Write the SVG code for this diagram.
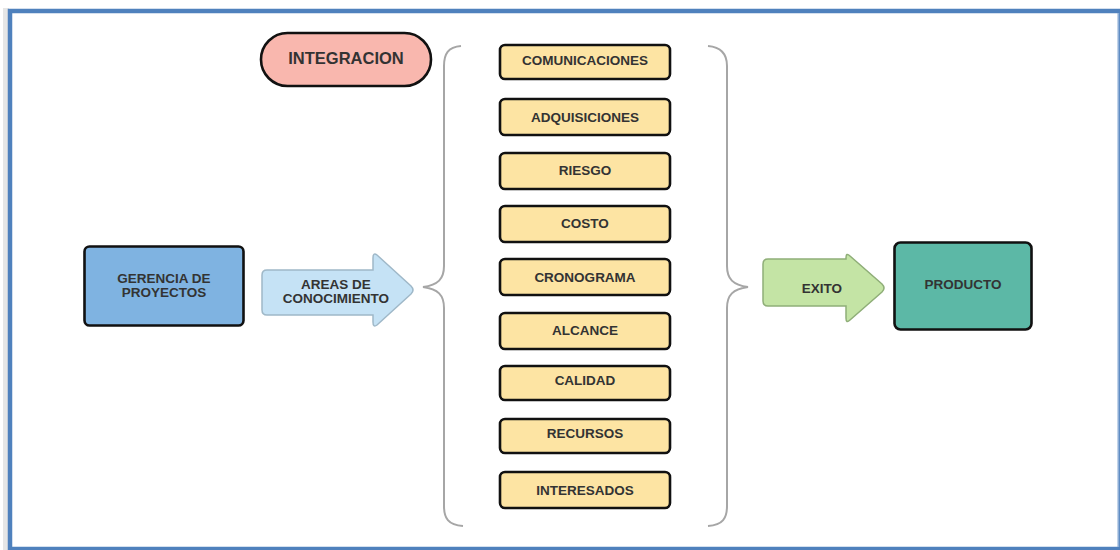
<svg xmlns="http://www.w3.org/2000/svg" width="1120" height="550" viewBox="0 0 1120 550">
  <style>
    .lbl { font-family: "Liberation Sans", Arial, sans-serif; font-weight: bold; font-size: 13.5px; fill: #333333; text-anchor: middle; }
    .area { fill: #fde4a3; stroke: #111111; stroke-width: 2.6; }
    .brace { fill: none; stroke: #a6a6a6; stroke-width: 2; }
  </style>

  <!-- page frame -->
  <rect x="0" y="0" width="1120" height="550" fill="#ffffff"/>
  <rect x="3" y="8" width="6" height="542" fill="#e6e6e6"/>
  <rect x="10" y="11" width="1110" height="538" fill="#ffffff" stroke="#4f81bd" stroke-width="4.5"/>
  <line x1="1118.5" y1="13" x2="1118.5" y2="547" stroke="#8eaed6" stroke-width="1.5"/>

  <!-- connectors: braces grouping the knowledge areas -->
  <g id="connectors">
    <path class="brace" d="M461,46 C448,47 444,54 444,66 L444,266 C444,279 438,285 423,287 C438,289 444,295 444,308 L444,506 C444,518 448,525 463,526"/>
    <path class="brace" d="M708,46 C721,47 727,54 727,66 L727,266 C727,279 733,285 748,287 C733,289 727,295 727,308 L727,506 C727,518 723,525 708,526"/>
  </g>

  <g id="integracion">
    <rect x="261" y="33" width="170" height="53" rx="26.5" fill="#f9b7ae" stroke="#111111" stroke-width="2.6"/>
    <text class="lbl" x="346" y="64" style="font-size:16.5px">INTEGRACION</text>
  </g>

  <g id="gerencia">
    <rect x="84.5" y="246.5" width="159" height="79" rx="5" fill="#7fb3e1" stroke="#111111" stroke-width="2.6"/>
    <text class="lbl" x="164" y="283">GERENCIA DE</text>
    <text class="lbl" x="164" y="297">PROYECTOS</text>
  </g>

  <g id="areas-conocimiento">
    <path d="M267,270 L373,270 L373,258 Q373,252 377,255 L411,286 Q415,290 411,294 L377,325 Q373,328 373,322 L373,315 L267,315 Q262,315 262,310 L262,275 Q262,270 267,270 Z" fill="#c5e2f5" stroke="#9fb8c8" stroke-width="1.5"/>
    <text class="lbl" x="336" y="289">AREAS DE</text>
    <text class="lbl" x="336" y="303">CONOCIMIENTO</text>
  </g>

  <g id="comunicaciones">
    <rect class="area" x="500" y="45" width="170" height="34" rx="5"/>
    <text class="lbl" x="585" y="64.5">COMUNICACIONES</text>
  </g>
  <g id="adquisiciones">
    <rect class="area" x="500" y="99" width="170" height="36" rx="5"/>
    <text class="lbl" x="585" y="122">ADQUISICIONES</text>
  </g>
  <g id="riesgo">
    <rect class="area" x="500" y="153" width="170" height="36" rx="5"/>
    <text class="lbl" x="585" y="175">RIESGO</text>
  </g>
  <g id="costo">
    <rect class="area" x="500" y="206" width="170" height="36" rx="5"/>
    <text class="lbl" x="585" y="228">COSTO</text>
  </g>
  <g id="cronograma">
    <rect class="area" x="500" y="259" width="170" height="36" rx="5"/>
    <text class="lbl" x="585" y="282">CRONOGRAMA</text>
  </g>
  <g id="alcance">
    <rect class="area" x="500" y="313" width="170" height="36" rx="5"/>
    <text class="lbl" x="585" y="335">ALCANCE</text>
  </g>
  <g id="calidad">
    <rect class="area" x="500" y="366" width="170" height="34" rx="5"/>
    <text class="lbl" x="585" y="385">CALIDAD</text>
  </g>
  <g id="recursos">
    <rect class="area" x="500" y="419" width="170" height="34" rx="5"/>
    <text class="lbl" x="585" y="438">RECURSOS</text>
  </g>
  <g id="interesados">
    <rect class="area" x="500" y="472" width="170" height="36" rx="5"/>
    <text class="lbl" x="585" y="495">INTERESADOS</text>
  </g>

  <g id="exito">
    <path d="M768,259 L846,259 L846,258 Q846,252 850,256 L882,284 Q886,288 882,292 L850,320 Q846,324 846,318 L846,306 L768,306 Q763,306 763,301 L763,264 Q763,259 768,259 Z" fill="#c4e4a5" stroke="#8fae78" stroke-width="1.5"/>
    <text class="lbl" x="822" y="293">EXITO</text>
  </g>

  <g id="producto">
    <rect x="894.5" y="242.5" width="137" height="87" rx="6" fill="#5cb8a6" stroke="#111111" stroke-width="2.6"/>
    <text class="lbl" x="963" y="289">PRODUCTO</text>
  </g>
</svg>
